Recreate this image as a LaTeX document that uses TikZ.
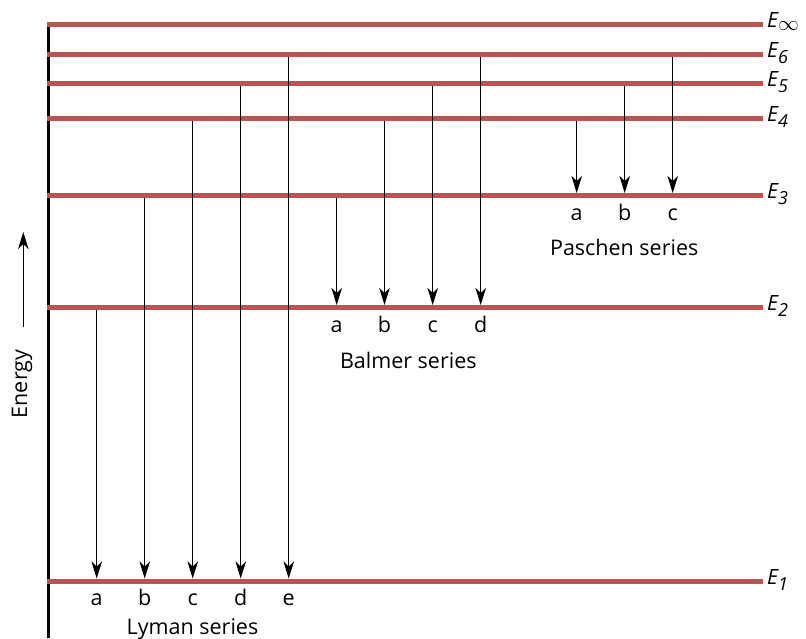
\documentclass[tikz,border=0pt]{standalone}
\usepackage{fontspec}
\setmainfont{Open Sans}
\usetikzlibrary{arrows.meta}
\definecolor{lvl}{RGB}{184,85,82}
\begin{document}
\begin{tikzpicture}[x=1pt,y=-1pt,
  level/.style={line width=5pt, draw=lvl},
  trans/.style={line width=1.5pt, -{Stealth[length=17pt,width=10.5pt,inset=5pt]}},
  lbl/.style={font=\fontsize{21.5}{25}\selectfont, inner sep=0pt, anchor=base},
  elbl/.style={font=\fontsize{21}{26}\selectfont\itshape, inner sep=0pt, anchor=base west}]
\useasboundingbox (0,0) rectangle (806,638);
% axis
\coordinate (axtop) at (48.5,22);
\coordinate (axbot) at (48.5,638);
\draw[line width=3pt] (axtop) -- (axbot);
% levels
\foreach \n/\y in {1/581,2/307.5,3/195.5,4/118,5/83.7,6/54,inf/24.3}{
  \coordinate (E\n l) at (47,\y);
  \coordinate (E\n r) at (763,\y);
  \draw[level] (E\n l) -- (E\n r);
}
% level labels
\foreach \n/\y in {1/581,2/307.5,3/195.5,4/118,5/83.7,6/54}{
  \node[elbl] (lab\n) at (767,\y+3) {E\raisebox{-6pt}{\fontsize{18}{20}\selectfont\itshape\n}};
}
\node[elbl] (labinf) at (767,24.3+3) {E\raisebox{-3pt}{\fontsize{21}{24}\selectfont$\infty$}};
% Lyman series
\foreach \k/\x/\u in {a/96.7/307.5,b/144.7/195.5,c/192.7/118,d/240.7/83.7,e/288.7/54}{
  \coordinate (ly\k s) at (\x,\u+2.5);
  \coordinate (ly\k e) at (\x,578.5);
  \draw[trans] (ly\k s) -- (ly\k e);
  \node[lbl] (lyl\k) at (\x,605) {\k};
}
\node[lbl] (lyman) at (192.5,634) {Lyman series};
% Balmer series
\foreach \k/\x/\u in {a/336.7/195.5,b/384.5/118,c/432.7/83.7,d/480.7/54}{
  \coordinate (ba\k s) at (\x,\u+2.5);
  \coordinate (ba\k e) at (\x,305);
  \draw[trans] (ba\k s) -- (ba\k e);
  \node[lbl] (bal\k) at (\x,332.7) {\k};
}
\node[lbl] (balmer) at (408.3,368.3) {Balmer series};
% Paschen series
\foreach \k/\x/\u in {a/576.7/118,b/624.7/83.7,c/672.7/54}{
  \coordinate (pa\k s) at (\x,\u+2.5);
  \coordinate (pa\k e) at (\x,193);
  \draw[trans] (pa\k s) -- (pa\k e);
  \node[lbl] (pal\k) at (\x,220.7) {\k};
}
\node[lbl] (paschen) at (624.2,255) {Paschen series};
% Energy
\coordinate (en1) at (23.3,327);
\coordinate (en2) at (23.3,232);
\draw[trans] (en1) -- (en2);
\node[font=\fontsize{21.5}{25}\selectfont, inner sep=0pt, rotate=90] (energy) at (22,384) {Energy};
\end{tikzpicture}
\end{document}
